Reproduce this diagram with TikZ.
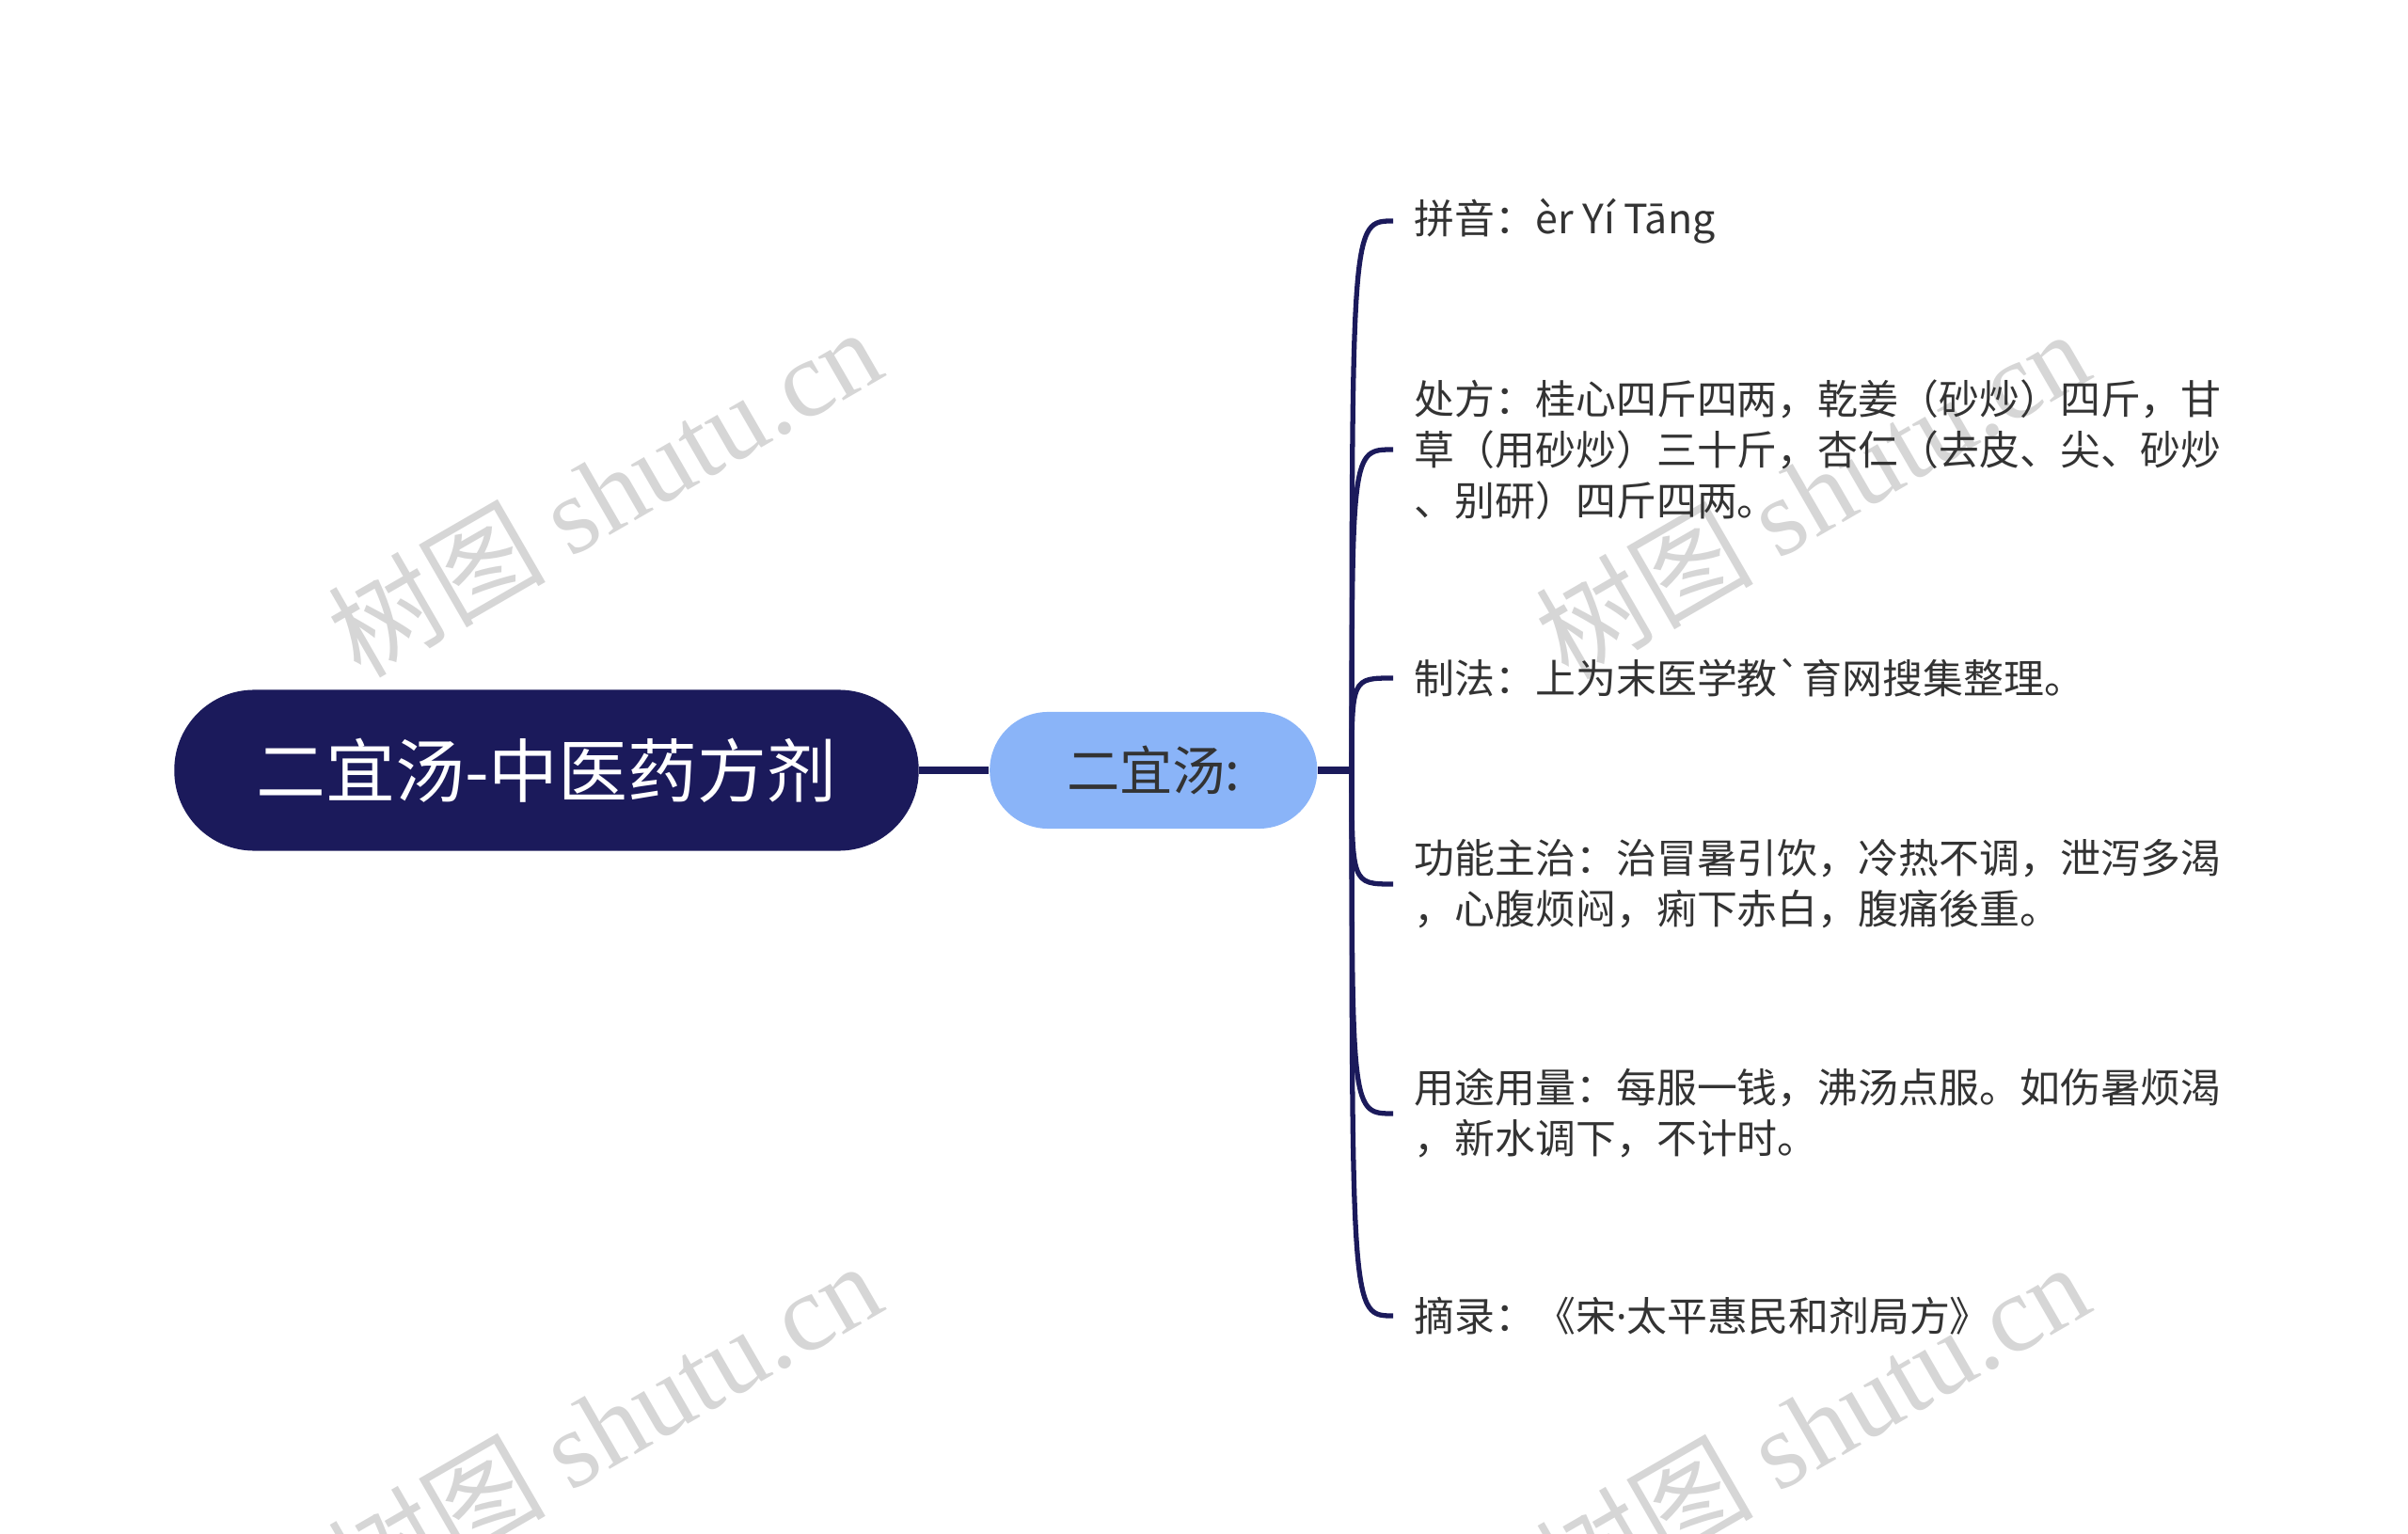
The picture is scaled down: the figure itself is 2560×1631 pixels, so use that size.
\documentclass[tikz,border=0pt]{standalone}
\usepackage{fontspec}
\setmainfont{Noto Sans CJK SC}[Ligatures=TeXOff]
\newfontfamily\markfont{Liberation Serif}
\newfontfamily\dotfont{Noto Sans}
\usepackage{tikz}
\usetikzlibrary{positioning}
\definecolor{navy}{RGB}{27,26,91}
\definecolor{skyblue}{RGB}{138,180,248}
\definecolor{leafgray}{RGB}{51,51,51}
\pgfmathsetmacro{\leafx}{1481}
\tikzset{
  rootbox/.style={fill=navy, text=white, rounded corners=0.85cm,
    minimum width=7.91cm, minimum height=1.71cm,
    font=\fontsize{21pt}{25pt}\selectfont},
  childbox/.style={fill=skyblue, text=leafgray, rounded corners=0.62cm,
    minimum width=3.48cm, minimum height=1.24cm,
    font=\fontsize{16pt}{19pt}\selectfont},
  leaf/.style={anchor=west, inner xsep=0.22cm, inner ysep=0pt, align=left,
    text=leafgray, font=\fontsize{12.2pt}{15.4pt}\selectfont},
  trunk/.style={draw=navy, line width=2pt},
  branch/.style={draw=navy, line width=1.5pt},
  watermark/.style={rotate=30, text=black!16,
    font=\fontsize{33pt}{33pt}\selectfont}
}

\begin{document}
\begin{tikzpicture}[x=0.01cm, y=-0.01cm]
    \useasboundingbox (0,0) rectangle (2560,1631);
    % watermarks
    \node[watermark] (mark_tl) at (642,522) {树图 {\markfont shutu.cn}};
    \node[watermark] (mark_tr) at (1926,524) {树图 {\markfont shutu.cn}};
    \node[watermark] (mark_bl) at (642,1515) {树图 {\markfont shutu.cn}};
    \node[watermark] (mark_br) at (1926,1516) {树图 {\markfont shutu.cn}};
    % define nodes
    % root and child
    \node[rootbox] (root) at (581,819) {二宜汤-中医药方剂};
    \node[childbox, right=0.74cm of root] (child) {二宜汤:};
    \coordinate[right=0.36cm of child] (hub);
    % leaves
    \node[leaf] (pinyin) at (\leafx,235) {拼音：èr Yí Tāng};
    \node[leaf] (chufang) at (\leafx,478) {处方：桂心四斤四两，乾姜（砂炒）四斤，甘\\草（用砂炒）三十斤，杏仁（去皮、尖、砂炒\\、别研）四斤四两。};
    \node[leaf] (zhifa) at (\leafx,721) {制法：上为末医学教`育网搜集整理。};
    \node[leaf] (gongneng) at (\leafx,940) {功能主治：治冒暑引饮，冷热不调，泄泻多渴\\，心腹烦闷，痢下赤白，腹痛後重。};
    \node[leaf] (yongtu) at (\leafx,1184) {用途用量：每服一钱，沸汤点服。如伤暑烦渴\\，新水调下，不计时。};
    \node[leaf] (zhailu) at (\leafx,1399) {摘录：《宋{\dotfont·}太平惠民和剂局方》};
    % draw connections
    \draw[trunk] (root.east) -- (child.west);
    \draw[trunk] (child.east) -- (hub);
    \draw[branch] (hub) .. controls (hub |- pinyin.west) .. (pinyin.west);
    \draw[branch] (hub) .. controls (hub |- chufang.west) .. (chufang.west);
    \draw[branch] (hub) .. controls (hub |- zhifa.west) .. (zhifa.west);
    \draw[branch] (hub) .. controls (hub |- gongneng.west) .. (gongneng.west);
    \draw[branch] (hub) .. controls (hub |- yongtu.west) .. (yongtu.west);
    \draw[branch] (hub) .. controls (hub |- zhailu.west) .. (zhailu.west);
\end{tikzpicture}
\end{document}
